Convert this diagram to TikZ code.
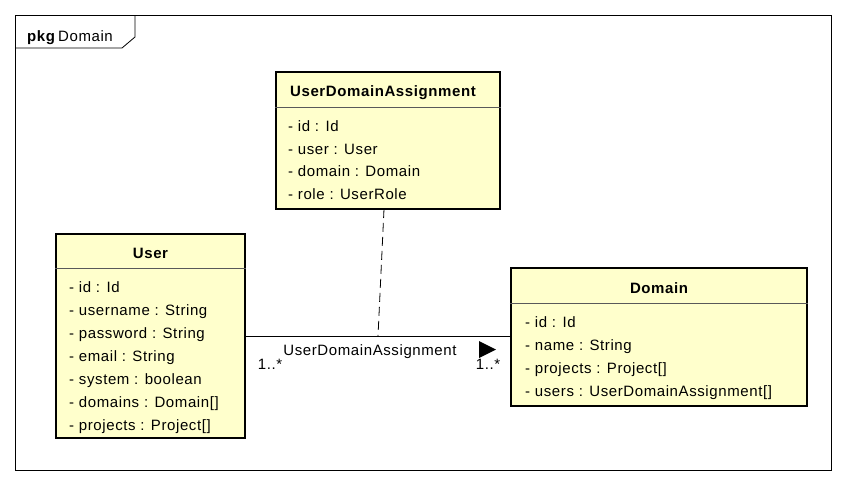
\documentclass[tikz,border=0pt]{standalone}
\usepackage{fontspec}
\newfontfamily\umlfont{Liberation Sans}[LetterSpace=4]
\usepackage{tikz}
\definecolor{umlfill}{HTML}{FFFFCC}

\begin{document}
\begin{tikzpicture}[x=1pt,y=-1pt,
    font=\umlfont\fontsize{15}{18}\selectfont,
    classbox/.style={draw, line width=2.4pt, fill=umlfill, inner sep=0pt},
    classtitle/.style={anchor=base, inner sep=0pt, font=\umlfont\bfseries\fontsize{15}{18}\selectfont},
    attr/.style={anchor=base west, inner sep=0pt},
    sepline/.style={draw=black!65, line width=0.9pt},
    lbl/.style={inner sep=0pt}]
    \useasboundingbox (0,0) rectangle (845,485);

    % Package frame
    \draw[line width=0.8pt] (15,15) rectangle (831,470);
    \draw[line width=0.8pt] (15,48) -- (122,48) -- (135,37) -- (135,15);
    \node[attr] (pkgname) at (27,41) {\textbf{pkg}\,Domain};

    % UserDomainAssignment class
    \node[classbox, minimum width=224pt, minimum height=137pt] (uda) at (388,140.5) {};
    \node[classtitle] (udatitle) at (383,96.5) {UserDomainAssignment};
    \draw[sepline] (uda.west |- 0,107) -- (uda.east |- 0,107);
    \foreach \a [count=\i] in {{- id : Id}, {- user : User}, {- domain : Domain}, {- role : UserRole}} {
        \node[attr] (udaattr\i) at (288,108.8+22.7*\i) {\a};
    }

    % User class
    \node[classbox, minimum width=189pt, minimum height=204pt] (user) at (150.5,336) {};
    \node[classtitle] (usertitle) at (150.5,258.5) {User};
    \draw[sepline] (user.west |- 0,268) -- (user.east |- 0,268);
    \foreach \a [count=\i] in {{- id : Id}, {- username : String}, {- password : String}, {- email : String},
        {- system : boolean}, {- domains : Domain[]}, {- projects : Project[]}} {
        \node[attr] (userattr\i) at (69,269.5+23*\i) {\a};
    }

    % Domain class
    \node[classbox, minimum width=296pt, minimum height=138pt] (domain) at (659,337) {};
    \node[classtitle] (domaintitle) at (659,293.5) {Domain};
    \draw[sepline] (domain.west |- 0,303) -- (domain.east |- 0,303);
    \foreach \a [count=\i] in {{- id : Id}, {- name : String}, {- projects : Project[]}, {- users : UserDomainAssignment[]}} {
        \node[attr] (domainattr\i) at (525,304.5+23*\i) {\a};
    }

    % Association with association class
    \coordinate (assocmid) at (378,336);
    \coordinate (udafoot) at (384,209);
    \draw[line width=0.8pt] (user.east) -- (user.east -| domain.west);
    \draw[line width=0.8pt, dash pattern=on 9pt off 5pt] (udafoot) -- (assocmid);
    \node[lbl] (assocname) at (370,352) {UserDomainAssignment};
    \node[lbl] (multuser) at (270,364) {1..*};
    \node[lbl] (multdomain) at (488,364) {1..*};
    \fill (479,341) -- (496,349.5) -- (479,358) -- cycle;
\end{tikzpicture}
\end{document}
